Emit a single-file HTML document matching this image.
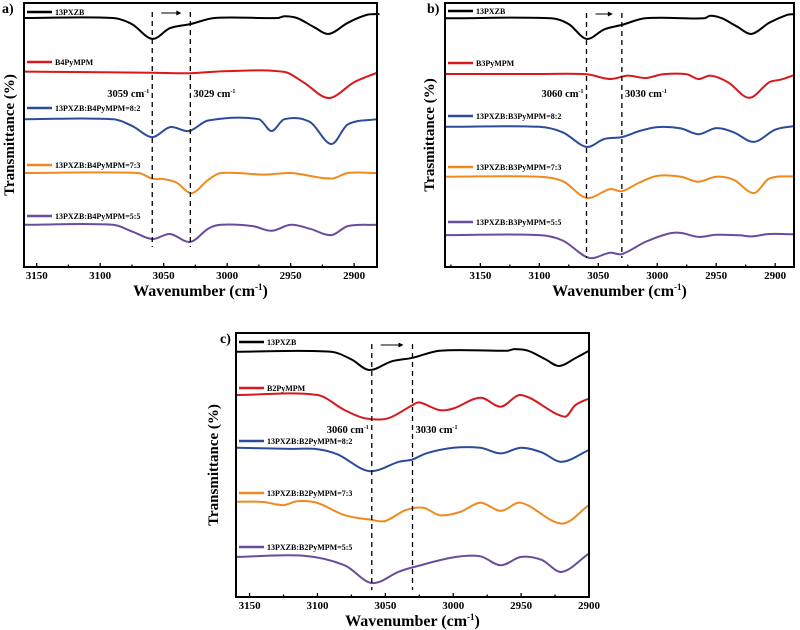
<!DOCTYPE html>
<html><head><meta charset="utf-8"><style>
body{margin:0;background:#fff;}
svg{display:block;font-family:"Liberation Serif",serif;}
</style></head><body>
<svg id="fig" width="800" height="630" viewBox="0 0 800 630"></svg>
<script>
// ---------- data ----------
const tickLabels = [3150, 3100, 3050, 3000, 2950, 2900];
const seriesNamesA = ["13PXZB", "B4PyMPM", "13PXZB:B4PyMPM=8:2", "13PXZB:B4PyMPM=7:3", "13PXZB:B4PyMPM=5:5"];
const seriesNamesB = ["13PXZB", "B3PyMPM", "13PXZB:B3PyMPM=8:2", "13PXZB:B3PyMPM=7:3", "13PXZB:B3PyMPM=5:5"];
const seriesNamesC = ["13PXZB", "B2PyMPM", "13PXZB:B2PyMPM=8:2", "13PXZB:B2PyMPM=7:3", "13PXZB:B2PyMPM=5:5"];
const peaksA = [3059, 3029];
const peaksB = [3060, 3030];
const peaksC = [3060, 3030];
const a0 = [[3160,94.3],[3090,94.3],[3075,92],[3059,86.4],[3045,90.5],[3029,92],[3010,94.3],[2960,94.3],[2955,95],[2945,94.3],[2932,91],[2920,88.3],[2905,92.5],[2890,95.5],[2880,95.8]];
const a1 = [[3160,74],[3059,73.6],[3030,73.4],[3000,74.2],[2955,73.9],[2940,70],[2920,64],[2900,70],[2882,73.6]];
const a2 = [[3160,56],[3090,56],[3075,53.5],[3059,49.2],[3045,53],[3030,51.5],[3015,55.5],[2975,56],[2965,51.5],[2955,56],[2935,55],[2918,46.6],[2905,54],[2882,56]];
const a3 = [[3160,35.6],[3070,35.6],[3059,33.5],[3050,33.3],[3040,32],[3028,28],[3015,33],[3005,35.6],[2970,35],[2950,35.6],[2918,33.5],[2905,35.6],[2882,35.6]];
const a4 = [[3160,16],[3090,16],[3075,13.5],[3059,10.6],[3045,12.5],[3029,9.5],[3015,14.5],[3005,16],[2980,15.5],[2965,13.7],[2950,16],[2935,14.5],[2918,12.1],[2905,15.5],[2882,16]];
const b0 = [[3180,94.2],[3090,94.2],[3075,92],[3060,86.4],[3045,90],[3030,91.7],[3010,94.2],[2960,94.2],[2955,95.2],[2945,94.2],[2932,91],[2920,88.3],[2905,92.5],[2890,95.5],[2884,95.8]];
const b1 = [[3180,73.1],[3100,73.1],[3060,73],[3040,71.2],[3025,72.5],[3010,71.6],[2995,73],[2975,73],[2965,71.2],[2955,72.5],[2940,70],[2922,64.1],[2905,70],[2895,71],[2884,72.7]];
const b2 = [[3180,53.1],[3100,53.1],[3080,51],[3060,45.5],[3045,48.5],[3030,49.2],[3015,51.5],[3000,53],[2980,52.5],[2965,50.3],[2950,52.6],[2935,51],[2918,47.4],[2900,52],[2884,53.4]];
const b3 = [[3180,34.2],[3100,34.2],[3080,32.5],[3060,26.2],[3040,29.5],[3030,28.7],[3015,32],[3000,34.5],[2980,34.2],[2965,32.3],[2950,34.2],[2935,33],[2918,28],[2905,33.5],[2884,34.4]];
const b4 = [[3180,12.1],[3100,12.1],[3080,10],[3058,3.5],[3040,5.4],[3030,4.9],[3010,9.5],[2990,12.7],[2980,12.9],[2965,11.4],[2950,12.2],[2930,12],[2920,11.6],[2905,12.5],[2884,12.4]];
const c0 = [[3160,92.9],[3090,92.9],[3075,90],[3062,86],[3045,89.3],[3030,90.6],[3010,93.3],[2960,93.3],[2955,93.9],[2945,93.3],[2932,90],[2922,87.5],[2910,90.5],[2900,93.3]];
const c1 = [[3160,76.5],[3100,76.5],[3080,70.8],[3065,67.7],[3048,67.7],[3030,72.7],[3025,73.7],[3010,70.8],[3000,71.4],[2980,75.5],[2965,72.1],[2950,76.5],[2918,68.3],[2910,72.7],[2900,75.2]];
const c2 = [[3160,56.5],[3120,56.1],[3100,56],[3085,54],[3062,47.7],[3040,51.2],[3030,52.1],[3020,54.4],[3000,56.5],[2980,56.5],[2965,54.4],[2950,56.5],[2935,54.8],[2920,51.2],[2900,55.7]];
const c3 = [[3160,36.1],[3140,36],[3125,34.8],[3115,36.3],[3100,35.6],[3080,31],[3060,29.2],[3050,28.8],[3035,32.9],[3022,33.8],[3010,31],[2995,32.2],[2980,35.7],[2965,32.6],[2950,35.7],[2920,27.8],[2900,34.8]];
const c4 = [[3160,15.2],[3110,15.6],[3080,12],[3060,5.3],[3040,9.6],[3030,11.2],[3000,15],[2980,15.4],[2965,12],[2950,15.2],[2935,14.1],[2920,9.5],[2900,16.5]];

const colors = ["#000000","#d7191c","#2b4c9b","#f08a1f","#6a4c9c"];
const NS = "http://www.w3.org/2000/svg";
const svg = document.getElementById('fig');
function mk(tag, attrs, parent){const e=document.createElementNS(NS,tag);for(const k in attrs)e.setAttribute(k,attrs[k]);(parent||svg).appendChild(e);return e;}
function smooth(pts){
 const n=pts.length, m=[];
 for(let i=0;i<n;i++){const a=pts[Math.max(0,i-1)],b=pts[Math.min(n-1,i+1)];m.push((b[1]-a[1])/(b[0]-a[0]));}
 let d="M"+pts[0][0].toFixed(1)+","+pts[0][1].toFixed(1);
 for(let i=0;i<n-1;i++){const p1=pts[i],p2=pts[i+1],h=(p2[0]-p1[0])/3;
  d+=" C"+(p1[0]+h).toFixed(1)+","+(p1[1]+m[i]*h).toFixed(1)+" "+(p2[0]-h).toFixed(1)+","+(p2[1]-m[i+1]*h).toFixed(1)+" "+p2[0].toFixed(1)+","+p2[1].toFixed(1);}
 return d;}

function panel(cfg){
 const g=mk('g',{});
 
 
 const x=wn=>cfg.x0+(cfg.wMax-wn)*(cfg.x1-cfg.x0)/(cfg.wMax-cfg.wMin);
 const y=v=>cfg.y1-v*(cfg.y1-cfg.y0)/100;
 for(let w=2900;w<=3175;w+=25){ if(w>cfg.wMax||w<cfg.wMin) continue;
  const major=w%50===0;
  const t=mk('line',{x1:x(w),x2:x(w),y1:cfg.y1,y2:cfg.y1-(major?4:2.5),stroke:'#000','stroke-width':1.3},g);
  
  
 }
 tickLabels.forEach(v=>{
  const t=mk('text',{x:x(v),y:cfg.y1+12,'text-anchor':'middle','font-size':11,'font-weight':'bold'},g);
  t.textContent=v;
  
  
 });
 const xt=mk('text',{x:(cfg.x0+cfg.x1)/2,y:cfg.y1+29,'text-anchor':'middle','font-size':16,'font-weight':'bold'},g);
 xt.innerHTML='Wavenumber (cm<tspan dy="-6" font-size="9">-1</tspan><tspan dy="6">)</tspan>';
 
 
 const yt=mk('text',{x:0,y:0,transform:`translate(${cfg.yLabelX},${(cfg.y0+cfg.y1)/2}) rotate(-90)`,'text-anchor':'middle','font-size':15,'font-weight':'bold'},g);
 yt.textContent=cfg.ytitle;
 
 
 const pl=mk('text',{x:cfg.labX,y:cfg.y0+10,'font-size':14,'font-weight':'bold'},g);
 pl.textContent=cfg.id+')';
 
 
 cfg.series.forEach((s,i)=>{
  const p=mk('path',{d:smooth(s.map(q=>[x(q[0]),y(q[1])])),fill:'none',stroke:colors[i],'stroke-width':2},g);
  
  
  const ly=cfg.legY[i];
  const ll=mk('line',{x1:cfg.x0+3,x2:cfg.x0+28,y1:ly,y2:ly,stroke:colors[i],'stroke-width':2.5},g);
  
  
  const lt=mk('text',{x:cfg.x0+31,y:ly+3,'font-size':8,'font-weight':'bold'},g);
  lt.textContent=cfg.names[i];
  
  
 });
 cfg.peaks.forEach((pk,i)=>{
  const dl=mk('line',{x1:x(pk),x2:x(pk),y1:cfg.dashY0,y2:cfg.dashY1,stroke:'#000','stroke-width':1.3,'stroke-dasharray':'5,4'},g);
  
  
  const tx=mk('text',{x:i===0?x(pk)-3:x(pk)+3,y:cfg.peakLabY,'text-anchor':i===0?'end':'start','font-size':10.5,'font-weight':'bold'},g);
  tx.innerHTML=pk+' cm<tspan dy="-4" font-size="6">-1</tspan>';
  
  
 });
 const ax0=x(cfg.peaks[0])+9, ax1=x(cfg.peaks[1])-9, ay=cfg.dashY0+1;
 const ar=mk('line',{x1:ax0,x2:ax1-3,y1:ay,y2:ay,stroke:'#000','stroke-width':1},g);
 
 
 const ah=mk('polygon',{points:`${ax1},${ay} ${ax1-5},${ay-2.5} ${ax1-5},${ay+2.5}`,fill:'#000'},g);
 
 
 const fr=mk('rect',{x:cfg.x0,y:cfg.y0,width:cfg.x1-cfg.x0,height:cfg.y1-cfg.y0,fill:'none',stroke:'#000','stroke-width':2},g);
 
 
}

panel({id:'a',x0:24,x1:377,y0:3,y1:267,wMax:3160,wMin:2882,series:[a0,a1,a2,a3,a4],names:seriesNamesA,
 legY:[12,62,108,165,216],peaks:peaksA,dashY0:12,dashY1:247,peakLabY:97,ytitle:'Transmittance (%)',yLabelX:14,labX:2});
panel({id:'b',x0:445,x1:794,y0:3,y1:267,wMax:3180,wMin:2884,series:[b0,b1,b2,b3,b4],names:seriesNamesB,
 legY:[11,63,116,167,222],peaks:peaksB,dashY0:13,dashY1:258,peakLabY:97,ytitle:'Trasmittance (%)',yLabelX:434,labX:427});
panel({id:'c',x0:236,x1:589,y0:333,y1:597,wMax:3160,wMin:2900,series:[c0,c1,c2,c3,c4],names:seriesNamesC,
 legY:[342,388,441,493,547],peaks:peaksC,dashY0:344,dashY1:590,peakLabY:433,ytitle:'Transmittance (%)',yLabelX:218,labX:220});
</script>
</body></html>
